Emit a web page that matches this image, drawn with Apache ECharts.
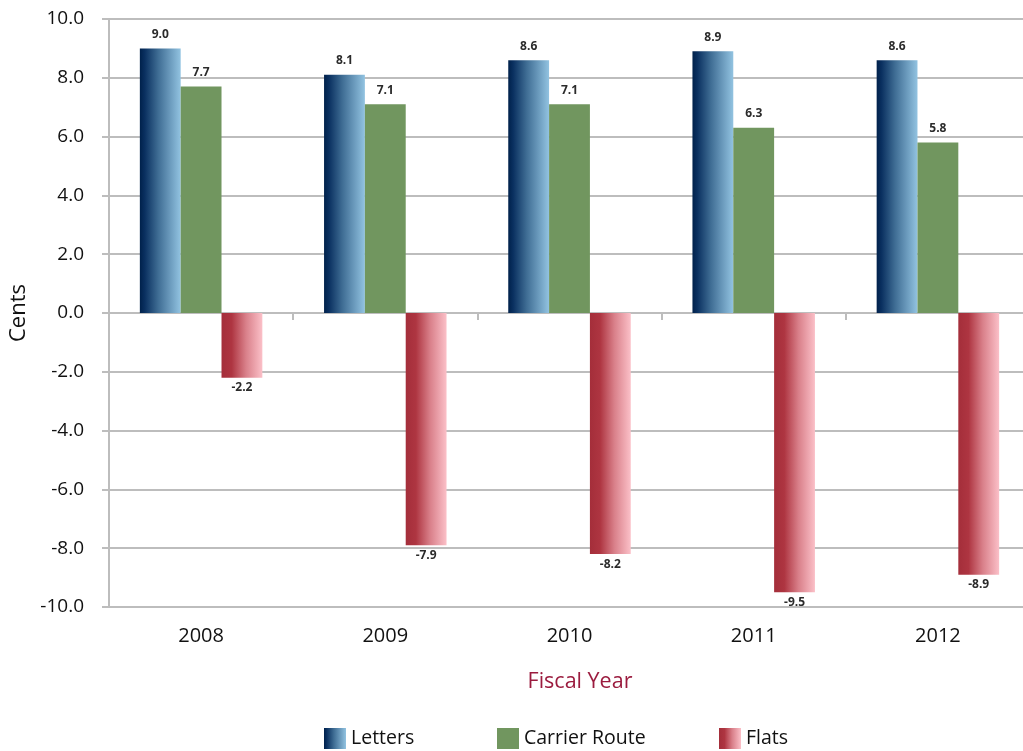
<!DOCTYPE html>
<html>
<head>
<meta charset="utf-8">
<script src="https://cdn.jsdelivr.net/npm/echarts@6/dist/echarts.min.js"></script>
<style>
  html, body { margin: 0; padding: 0; background: #ffffff; }
  #chart { width: 1023px; height: 751px; }
</style>
</head>
<body>
<div id="chart"></div>
<script>
// Unit cost change by product, in cents, per fiscal year
const years = ['2008', '2009', '2010', '2011', '2012'];
const letters = [9.0, 8.1, 8.6, 8.9, 8.6];
const carrierRoute = [7.7, 7.1, 7.1, 6.3, 5.8];
const flats = [-2.2, -7.9, -8.2, -9.5, -8.9];
const yTicks = { min: -10, max: 10, step: 2 };

const FONT = '"Open Sans", "Noto Sans", sans-serif';
const GRID_GRAY = '#bdbdbd';

const lettersFill = new echarts.graphic.LinearGradient(0, 0, 1, 0, [
  { offset: 0, color: '#00214b' },
  { offset: 0.12, color: '#0a3060' },
  { offset: 0.45, color: '#3f6d94' },
  { offset: 1, color: '#92c3e1' }
]);
const carrierFill = '#71965f';
const flatsFill = new echarts.graphic.LinearGradient(0, 0, 1, 0, [
  { offset: 0, color: '#a42e3a' },
  { offset: 0.25, color: '#ae3541' },
  { offset: 0.6, color: '#d9808a' },
  { offset: 1, color: '#fbc0c8' }
]);

const valueLabel = (pos, dist) => ({
  show: true,
  position: pos,
  distance: dist,
  formatter: p => p.value.toFixed(1),
  fontFamily: FONT,
  fontWeight: 'bold',
  fontSize: 12,
  color: '#2b2b2b'
});

const legendBase = {
  top: 723,
  itemWidth: 22,
  itemHeight: 21,
  icon: 'rect',
  textStyle: { fontFamily: FONT, fontSize: 19.5, color: '#111' }
};

const chart = echarts.init(document.getElementById('chart'), null, { renderer: 'canvas' });

chart.setOption({
  animation: false,
  backgroundColor: '#ffffff',
  // plot area runs slightly past the right edge of the canvas
  grid: {
    left: 109, top: 19, width: 921, height: 588,
    containLabel: false,
    outerBoundsMode: 'none'
  },
  title: {
    text: 'Fiscal Year',
    left: 575,
    top: 666,
    textAlign: 'center',
    textStyle: { fontFamily: FONT, fontSize: 21.5, fontWeight: 'normal', color: '#9b1c3f' }
  },
  legend: [
    Object.assign({ left: 319, data: ['Letters'] }, legendBase),
    Object.assign({ left: 492, data: ['Carrier Route'] }, legendBase),
    Object.assign({ left: 714, data: ['Flats'] }, legendBase)
  ],
  xAxis: [
    {
      // zero line with tick marks between years
      type: 'category',
      data: years,
      position: 'bottom',
      axisLine: { show: true, onZero: true, lineStyle: { color: GRID_GRAY, width: 2 } },
      axisTick: { show: true, length: 7, lineStyle: { color: GRID_GRAY, width: 2 } },
      axisLabel: { show: false },
      splitLine: { show: false }
    },
    {
      // year labels along the bottom edge
      type: 'category',
      data: years,
      position: 'bottom',
      axisLine: { show: false, onZero: false },
      axisTick: { show: false },
      axisLabel: { show: true, margin: 19, fontFamily: FONT, fontSize: 20, color: '#111' },
      splitLine: { show: false }
    }
  ],
  yAxis: {
    type: 'value',
    min: yTicks.min,
    max: yTicks.max,
    interval: yTicks.step,
    name: 'Cents',
    nameLocation: 'middle',
    nameRotate: 90,
    nameGap: 78,
    nameTextStyle: { fontFamily: FONT, fontSize: 22, color: '#111' },
    axisLine: { show: true, lineStyle: { color: GRID_GRAY, width: 2 } },
    axisTick: { show: true, length: 7, lineStyle: { color: GRID_GRAY, width: 2 } },
    axisLabel: {
      margin: 25,
      fontFamily: FONT,
      fontSize: 19,
      color: '#111',
      formatter: v => v.toFixed(1)
    },
    splitLine: { show: true, lineStyle: { color: GRID_GRAY, width: 2 } }
  },
  series: [
    {
      name: 'Letters',
      type: 'bar',
      xAxisIndex: 0,
      data: letters,
      barGap: '0%',
      barCategoryGap: '33.5%',
      itemStyle: { color: lettersFill },
      label: valueLabel('top', 8)
    },
    {
      name: 'Carrier Route',
      type: 'bar',
      xAxisIndex: 0,
      data: carrierRoute,
      barGap: '0%',
      barCategoryGap: '33.5%',
      itemStyle: { color: carrierFill },
      label: valueLabel('top', 8)
    },
    {
      name: 'Flats',
      type: 'bar',
      xAxisIndex: 0,
      data: flats,
      barGap: '0%',
      barCategoryGap: '33.5%',
      itemStyle: { color: flatsFill },
      label: valueLabel('bottom', 4)
    }
  ]
});
</script>
</body>
</html>
